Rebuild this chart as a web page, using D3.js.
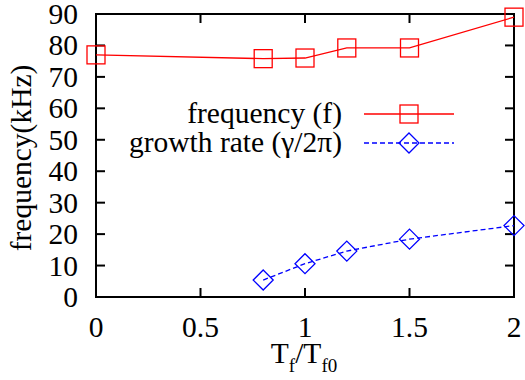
<!DOCTYPE html>
<html><head><meta charset="utf-8">
<script src="https://cdn.jsdelivr.net/npm/d3@7"></script>
<style>body{margin:0;background:#fff}</style>
</head><body>
<svg id="c" width="525" height="380" style="font-family:'Liberation Serif','Times New Roman',serif"></svg>
<script>
const xTicks = [0, 0.5, 1, 1.5, 2];
const xTickLabels = ["0", "0.5", "1", "1.5", "2"];
const yTicks = [0, 10, 20, 30, 40, 50, 60, 70, 80, 90];
const freqX = [0, 0.8, 1, 1.2, 1.5, 2];
const freqY = [77, 75.8, 76, 79.2, 79.2, 89];
const growthX = [0.8, 1, 1.2, 1.5, 2];
const growthY = [5.4, 10.6, 14.6, 18.4, 22.7];

const svg = d3.select("#c");
const L = 96, R = 514, T = 14, B = 297;
const x = d3.scaleLinear().domain([0, 2]).range([L, R]);
const y = d3.scaleLinear().domain([0, 90]).range([B, T]);
const fs = 29.5;
const txt = () => svg.append("text").style("font-family", "'Liberation Serif'").style("font-size", fs + "px").attr("fill", "#000");

// ticks (inward, mirrored)
const tl = 9;
const g = svg.append("g").attr("stroke", "#000").attr("stroke-width", 2);
yTicks.forEach(v => {
  g.append("line").attr("x1", L).attr("x2", L + tl).attr("y1", y(v)).attr("y2", y(v));
  g.append("line").attr("x1", R).attr("x2", R - tl).attr("y1", y(v)).attr("y2", y(v));
});
xTicks.forEach(v => {
  g.append("line").attr("x1", x(v)).attr("x2", x(v)).attr("y1", B).attr("y2", B - tl);
  g.append("line").attr("x1", x(v)).attr("x2", x(v)).attr("y1", T).attr("y2", T + tl);
});
svg.append("rect").attr("x", L).attr("y", T).attr("width", R - L).attr("height", B - T)
  .attr("fill", "none").attr("stroke", "#000").attr("stroke-width", 2);

// tick labels
yTicks.forEach(v => {
  txt().attr("x", L - 18).attr("y", y(v) + 10).attr("text-anchor", "end").text(v);
});
xTicks.forEach((v, i) => {
  txt().attr("x", x(v)).attr("y", 337).attr("text-anchor", "middle").text(xTickLabels[i]);
});

// axis labels
txt().attr("transform", "translate(31,158) rotate(-90)").attr("text-anchor", "middle").text("frequency(kHz)");
const xl = txt().attr("x", 304).attr("y", 363).attr("text-anchor", "middle");
xl.append("tspan").text("T");
xl.append("tspan").style("font-size", "19px").attr("dy", 9).text("f");
xl.append("tspan").attr("dy", -9).text("/T");
xl.append("tspan").style("font-size", "19px").attr("dy", 9).text("f0");

const red = "#ff0000", blue = "#0000ff";
const ms = 18;
const line = d3.line();

// frequency
const fp = freqX.map((v, i) => [x(v), y(freqY[i])]);
svg.append("path").attr("d", line(fp)).attr("fill", "none").attr("stroke", red).attr("stroke-width", 1.3);
fp.forEach(p => svg.append("rect").attr("x", p[0] - ms / 2).attr("y", p[1] - ms / 2)
  .attr("width", ms).attr("height", ms).attr("fill", "none").attr("stroke", red).attr("stroke-width", 1.3));

// growth
const gp = growthX.map((v, i) => [x(v), y(growthY[i])]);
svg.append("path").attr("d", line(gp)).attr("fill", "none").attr("stroke", blue)
  .attr("stroke-width", 1.3).attr("stroke-dasharray", "5,3");
const dia = (cx, cy) => `M${cx},${cy - 10}L${cx + 10},${cy}L${cx},${cy + 10}L${cx - 10},${cy}Z`;
gp.forEach(p => svg.append("path").attr("d", dia(p[0], p[1])).attr("fill", "none")
  .attr("stroke", blue).attr("stroke-width", 1.3));

// legend
const ly1 = 114, ly2 = 143, lx1 = 364, lx2 = 454, lm = 409;
txt().attr("x", 342).attr("y", ly1 + 9).attr("text-anchor", "end").text("frequency (f)");
svg.append("line").attr("x1", lx1).attr("x2", lx2).attr("y1", ly1).attr("y2", ly1)
  .attr("stroke", red).attr("stroke-width", 1.3);
svg.append("rect").attr("x", lm - ms / 2).attr("y", ly1 - ms / 2).attr("width", ms).attr("height", ms)
  .attr("fill", "none").attr("stroke", red).attr("stroke-width", 1.3);
txt().attr("x", 342).attr("y", ly2 + 9).attr("text-anchor", "end").text("growth rate (γ/2π)");
svg.append("line").attr("x1", lx1).attr("x2", lx2).attr("y1", ly2).attr("y2", ly2)
  .attr("stroke", blue).attr("stroke-width", 1.3).attr("stroke-dasharray", "5,3");
svg.append("path").attr("d", dia(lm, ly2)).attr("fill", "none").attr("stroke", blue).attr("stroke-width", 1.3);
</script>
</body></html>
